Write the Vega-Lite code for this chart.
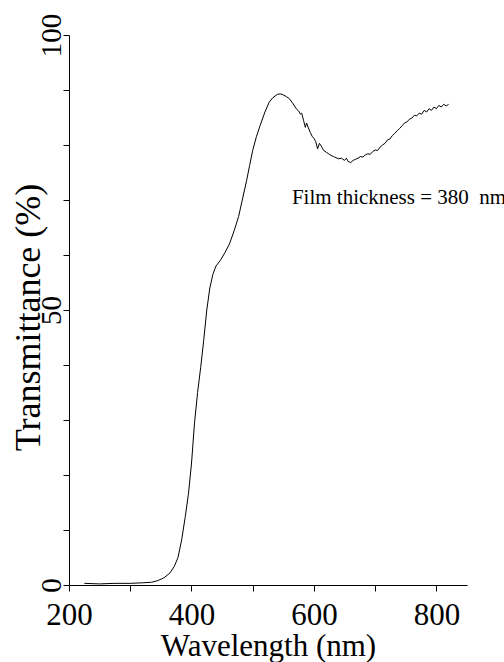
{
  "$schema": "https://vega.github.io/schema/vega-lite/v6.json",
  "width": 398,
  "height": 550,
  "autosize": {"type": "none"},
  "padding": {"left": 69, "top": 35, "right": 37, "bottom": 77},
  "background": "white",
  "config": {
    "view": {"stroke": null},
    "font": "Liberation Serif, serif",
    "axis": {"labelFont": "Liberation Serif, serif", "titleFont": "Liberation Serif, serif"}
  },
  "layer": [
    {
      "data": {
        "values": [
          {"wavelength": 225, "transmittance": 0.3},
          {"wavelength": 250, "transmittance": 0.2},
          {"wavelength": 275, "transmittance": 0.3},
          {"wavelength": 300, "transmittance": 0.3},
          {"wavelength": 320, "transmittance": 0.4},
          {"wavelength": 335, "transmittance": 0.5},
          {"wavelength": 345, "transmittance": 0.8},
          {"wavelength": 355, "transmittance": 1.3},
          {"wavelength": 365, "transmittance": 2.2},
          {"wavelength": 372, "transmittance": 3.4},
          {"wavelength": 378, "transmittance": 5.0},
          {"wavelength": 384, "transmittance": 8.2},
          {"wavelength": 390, "transmittance": 12.5},
          {"wavelength": 395, "transmittance": 16.5},
          {"wavelength": 400, "transmittance": 22},
          {"wavelength": 405, "transmittance": 29.5},
          {"wavelength": 410, "transmittance": 35},
          {"wavelength": 415, "transmittance": 39.5},
          {"wavelength": 420, "transmittance": 44.5},
          {"wavelength": 425, "transmittance": 50},
          {"wavelength": 430, "transmittance": 54},
          {"wavelength": 435, "transmittance": 56.5},
          {"wavelength": 440, "transmittance": 58},
          {"wavelength": 447, "transmittance": 59},
          {"wavelength": 455, "transmittance": 60.5},
          {"wavelength": 462, "transmittance": 62},
          {"wavelength": 470, "transmittance": 64.5},
          {"wavelength": 477, "transmittance": 67},
          {"wavelength": 483, "transmittance": 70},
          {"wavelength": 490, "transmittance": 73.5},
          {"wavelength": 495, "transmittance": 76.3},
          {"wavelength": 500, "transmittance": 79},
          {"wavelength": 506, "transmittance": 81.5},
          {"wavelength": 512, "transmittance": 83.5},
          {"wavelength": 520, "transmittance": 86},
          {"wavelength": 527, "transmittance": 87.8},
          {"wavelength": 533, "transmittance": 88.6},
          {"wavelength": 540, "transmittance": 89.2},
          {"wavelength": 545, "transmittance": 89.3},
          {"wavelength": 550, "transmittance": 89.1},
          {"wavelength": 555, "transmittance": 88.8},
          {"wavelength": 560, "transmittance": 88.4},
          {"wavelength": 566, "transmittance": 87.5},
          {"wavelength": 571, "transmittance": 86.6},
          {"wavelength": 575, "transmittance": 86.2},
          {"wavelength": 578, "transmittance": 85.6},
          {"wavelength": 580, "transmittance": 85.8},
          {"wavelength": 583, "transmittance": 84.5},
          {"wavelength": 586, "transmittance": 83.2},
          {"wavelength": 588, "transmittance": 84.0},
          {"wavelength": 591, "transmittance": 83.1},
          {"wavelength": 594, "transmittance": 82.3},
          {"wavelength": 597, "transmittance": 81.6},
          {"wavelength": 600, "transmittance": 81.2},
          {"wavelength": 603, "transmittance": 80.6},
          {"wavelength": 606, "transmittance": 79.3},
          {"wavelength": 609, "transmittance": 80.3},
          {"wavelength": 612, "transmittance": 79.8},
          {"wavelength": 616, "transmittance": 79.0},
          {"wavelength": 620, "transmittance": 78.7},
          {"wavelength": 624, "transmittance": 78.4},
          {"wavelength": 628, "transmittance": 78.1},
          {"wavelength": 632, "transmittance": 77.9},
          {"wavelength": 636, "transmittance": 77.7},
          {"wavelength": 640, "transmittance": 77.5},
          {"wavelength": 645, "transmittance": 77.6},
          {"wavelength": 650, "transmittance": 77.2},
          {"wavelength": 653, "transmittance": 77.6},
          {"wavelength": 656, "transmittance": 77.0},
          {"wavelength": 660, "transmittance": 76.8},
          {"wavelength": 664, "transmittance": 77.2},
          {"wavelength": 668, "transmittance": 77.4},
          {"wavelength": 672, "transmittance": 77.6},
          {"wavelength": 676, "transmittance": 77.9},
          {"wavelength": 680, "transmittance": 77.8},
          {"wavelength": 684, "transmittance": 78.2},
          {"wavelength": 688, "transmittance": 78.4},
          {"wavelength": 692, "transmittance": 78.3},
          {"wavelength": 696, "transmittance": 78.8},
          {"wavelength": 700, "transmittance": 79.1},
          {"wavelength": 704, "transmittance": 79.0},
          {"wavelength": 708, "transmittance": 79.6},
          {"wavelength": 712, "transmittance": 80.0},
          {"wavelength": 716, "transmittance": 80.3},
          {"wavelength": 720, "transmittance": 80.9},
          {"wavelength": 724, "transmittance": 81.1},
          {"wavelength": 728, "transmittance": 81.7},
          {"wavelength": 732, "transmittance": 82.1},
          {"wavelength": 736, "transmittance": 82.6},
          {"wavelength": 740, "transmittance": 83.0},
          {"wavelength": 744, "transmittance": 83.5},
          {"wavelength": 748, "transmittance": 84.0},
          {"wavelength": 752, "transmittance": 84.2},
          {"wavelength": 756, "transmittance": 84.7},
          {"wavelength": 760, "transmittance": 84.9},
          {"wavelength": 764, "transmittance": 85.4},
          {"wavelength": 768, "transmittance": 85.3},
          {"wavelength": 772, "transmittance": 85.8},
          {"wavelength": 776, "transmittance": 85.6},
          {"wavelength": 780, "transmittance": 86.3},
          {"wavelength": 784, "transmittance": 86.0},
          {"wavelength": 788, "transmittance": 86.6},
          {"wavelength": 792, "transmittance": 86.3},
          {"wavelength": 796, "transmittance": 86.9},
          {"wavelength": 800, "transmittance": 86.6},
          {"wavelength": 804, "transmittance": 87.2},
          {"wavelength": 808, "transmittance": 86.9},
          {"wavelength": 812, "transmittance": 87.4},
          {"wavelength": 816, "transmittance": 87.1},
          {"wavelength": 820, "transmittance": 87.4}
        ]
      },
      "mark": {"type": "line", "color": "black", "strokeWidth": 1},
      "encoding": {
        "x": {
          "field": "wavelength",
          "type": "quantitative",
          "scale": {"domain": [200, 850], "nice": false, "zero": false},
          "axis": {
            "values": [200, 300, 400, 500, 600, 700, 800],
            "labelExpr": "datum.value % 200 === 0 ? datum.label : ''",
            "grid": false,
            "tickSize": 6,
            "tickColor": "black",
            "domainColor": "black",
            "labelFont": "Liberation Serif, serif",
            "labelFontSize": 31,
            "labelColor": "black",
            "labelBaseline": "alphabetic",
            "labelPadding": 33,
            "labelFlush": false,
            "labelOverlap": false,
            "labelBound": false,
            "title": "Wavelength (nm)",
            "titleFont": "Liberation Serif, serif",
            "titleFontSize": 31,
            "titleFontWeight": "normal",
            "titleColor": "black",
            "titleBaseline": "alphabetic",
            "titleY": 70
          }
        },
        "y": {
          "field": "transmittance",
          "type": "quantitative",
          "scale": {"domain": [0, 100], "nice": false},
          "axis": {
            "values": [0, 10, 20, 30, 40, 50, 60, 70, 80, 90, 100],
            "labelExpr": "datum.value % 50 === 0 ? datum.label : ''",
            "grid": false,
            "tickSize": 6,
            "tickColor": "black",
            "domainColor": "black",
            "labelFont": "Liberation Serif, serif",
            "labelFontSize": 29,
            "labelColor": "black",
            "labelAngle": -90,
            "labelAlign": "center",
            "labelBaseline": "alphabetic",
            "labelPadding": 3,
            "labelFlush": false,
            "labelOverlap": false,
            "labelBound": false,
            "title": "Transmittance (%)",
            "titleFont": "Liberation Serif, serif",
            "titleFontSize": 36,
            "titleFontWeight": "normal",
            "titleColor": "black",
            "titleAngle": -90,
            "titleAlign": "center",
            "titleBaseline": "alphabetic",
            "titleX": -30,
            "titleY": 282
          }
        }
      }
    },
    {
      "data": {"values": [{"wavelength": 564, "transmittance": 69.3, "label": "Film thickness = 380\u00a0 nm"}]},
      "mark": {"type": "text", "align": "left", "baseline": "alphabetic", "font": "Liberation Serif, serif", "fontSize": 21, "color": "black"},
      "encoding": {
        "x": {"field": "wavelength", "type": "quantitative"},
        "y": {"field": "transmittance", "type": "quantitative"},
        "text": {"field": "label"}
      }
    }
  ]
}
